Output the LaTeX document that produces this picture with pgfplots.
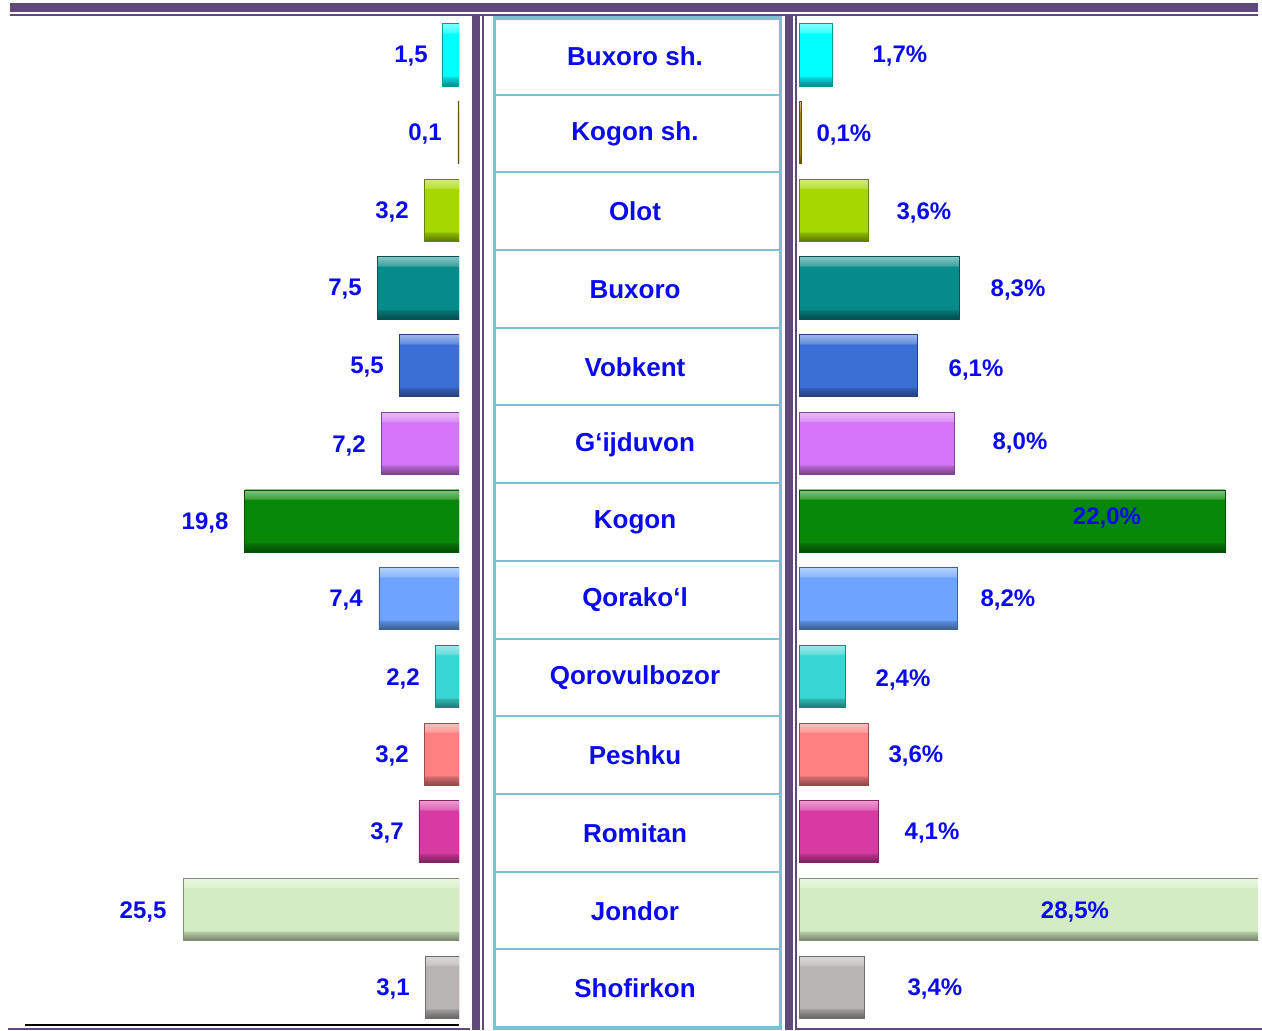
\documentclass[border=0pt]{standalone}
\usepackage{pgfplots}
\pgfplotsset{compat=1.18}
\usepackage{fontspec}
\setmainfont{Liberation Sans}

\definecolor{frame}{HTML}{5F497A}
\definecolor{tblue}{HTML}{7AC2D2}
\definecolor{labblue}{HTML}{0A0AEE}
\definecolor{baseline}{HTML}{A6A6A6}

% one colour and one bevel shading per district
\newcommand{\defbar}[2]{%
  \definecolor{#1}{HTML}{#2}%
  \pgfdeclareverticalshading{bev#1}{100bp}{color(0bp)=(#1!55!black); color(25bp)=(#1!55!black);
    color(32bp)=(#1!85!black); color(33bp)=(#1); color(67bp)=(#1); color(68bp)=(#1!78!white);
    color(75bp)=(#1!50!white); color(100bp)=(#1!50!white)}}
\defbar{cA}{00FFFF}
\defbar{cB}{A8860E}
\defbar{cC}{A6D800}
\defbar{cD}{078A8A}
\defbar{cE}{3B6FD6}
\defbar{cF}{D675F8}
\defbar{cG}{078707}
\defbar{cH}{6CA4FF}
\defbar{cI}{38D6D2}
\defbar{cJ}{FF8080}
\defbar{cK}{D83AA3}
\defbar{cL}{D3ECC3}
\defbar{cM}{B8B4B4}

\newcommand{\onebar}[3]{\addplot[xbar, bar width=0.8, bar shift=0pt,
  draw=#1!60!black, line width=0.4pt, shade, shading=bev#1] coordinates {(#2,#3)};}

\pgfplotsset{
  panel/.style={
    scale only axis, height=505pt,
    ymin=-0.5, ymax=12.5, y dir=reverse,
    clip=true,
  },
  lab/.style={draw=none, mark=none, nodes near coords, point meta=explicit symbolic,
    every node near coord/.append style={anchor=center, inner sep=0pt,
      font=\fontsize{12}{14}\selectfont\bfseries, text=labblue}},
}

\begin{document}
\begin{tikzpicture}
\useasboundingbox (0,0) rectangle (631pt,-515pt);

\begin{scope}[x=0.5pt,y=-0.5pt]
  \fill[frame] (10,3) rectangle (1258,12);
  \fill[frame] (10,14) rectangle (1258,16);
  \fill[frame] (472,16) rectangle (480,1030);
  \fill[frame] (482,16) rectangle (484,1030);
  \fill[frame] (785,16) rectangle (793,1030);
  \fill[frame] (795,16) rectangle (797,1030);
  \fill[frame] (8,1028) rectangle (470,1030);
  \fill[frame] (797,1028) rectangle (1262,1030);
  \fill[baseline] (25,1024) rectangle (459,1026);
  \foreach \k in {1,...,12}
    \draw[tblue, line width=1pt] (496,17+77.69*\k) -- (779,17+77.69*\k);
  \draw[tblue, line width=1.6pt] (494.5,18) rectangle (780.5,1028);
\end{scope}

% left panel: absolute values
\begin{axis}[panel, at={(5pt,-8pt)}, anchor=north west,
  width=224.5pt, xmin=0, xmax=41.5, x dir=reverse, hide axis]
\onebar{cA}{1.5}{0}
\onebar{cB}{0.1}{1}
\onebar{cC}{3.2}{2}
\onebar{cD}{7.5}{3}
\onebar{cE}{5.5}{4}
\onebar{cF}{7.2}{5}
\onebar{cG}{19.8}{6}
\onebar{cH}{7.4}{7}
\onebar{cI}{2.2}{8}
\onebar{cJ}{3.2}{9}
\onebar{cK}{3.7}{10}
\onebar{cL}{25.5}{11}
\onebar{cM}{3.1}{12}
\addplot[lab] table[meta=lab] {
x     y     lab
4.44  0.02  1,5
3.14  1.02  0,1
6.19  2.02  3,2
10.54 3.02  7,5
8.50  4.02  5,5
10.17 5.03  7,2
23.47 6.02  19,8
10.44 7.02  7,4
5.18  8.03  2,2
6.19  9.02  3,2
6.65  10.02 3,7
29.20 11.03 25,5
6.10  12.02 3,1
};
\end{axis}

% right panel: shares in percent, district names in the middle column
\begin{axis}[panel, at={(399.5pt,-8pt)}, anchor=north west,
  width=229.5pt, xmin=0, xmax=23.7,
  axis line style={draw=none}, xtick=\empty, major tick length=0pt,
  ytick={0,...,12},
  yticklabels={Buxoro sh.,Kogon sh.,Olot,Buxoro,Vobkent,G‘ijduvon,Kogon,Qorako‘l,Qorovulbozor,Peshku,Romitan,Jondor,Shofirkon},
  yticklabel style={anchor=center, xshift=-82pt, yshift=-0.7pt, inner sep=0pt,
    font=\fontsize{13}{15}\selectfont\bfseries, text=labblue}]
\onebar{cA}{1.7}{0}
\onebar{cB}{0.1}{1}
\onebar{cC}{3.6}{2}
\onebar{cD}{8.3}{3}
\onebar{cE}{6.1}{4}
\onebar{cF}{8.0}{5}
\onebar{cG}{22.0}{6}
\onebar{cH}{8.2}{7}
\onebar{cI}{2.4}{8}
\onebar{cJ}{3.6}{9}
\onebar{cK}{4.1}{10}
\onebar{cL}{28.5}{11}
\onebar{cM}{3.4}{12}
\addplot[lab] table[meta=lab] {
x     y     lab
5.21  0.02  1,7\%
2.32  1.03  0,1\%
6.45  2.03  3,6\%
11.31 3.03  8,3\%
9.14  4.06  6,1\%
11.41 4.99  8,0\%
15.90 5.96  22,0\%
10.79 7.02  8,2\%
5.37  8.05  2,4\%
6.04  9.02  3,6\%
6.87  10.02 4,1\%
14.25 11.03 28,5\%
7.02  12.02 3,4\%
};
\end{axis}
\end{tikzpicture}
\end{document}
